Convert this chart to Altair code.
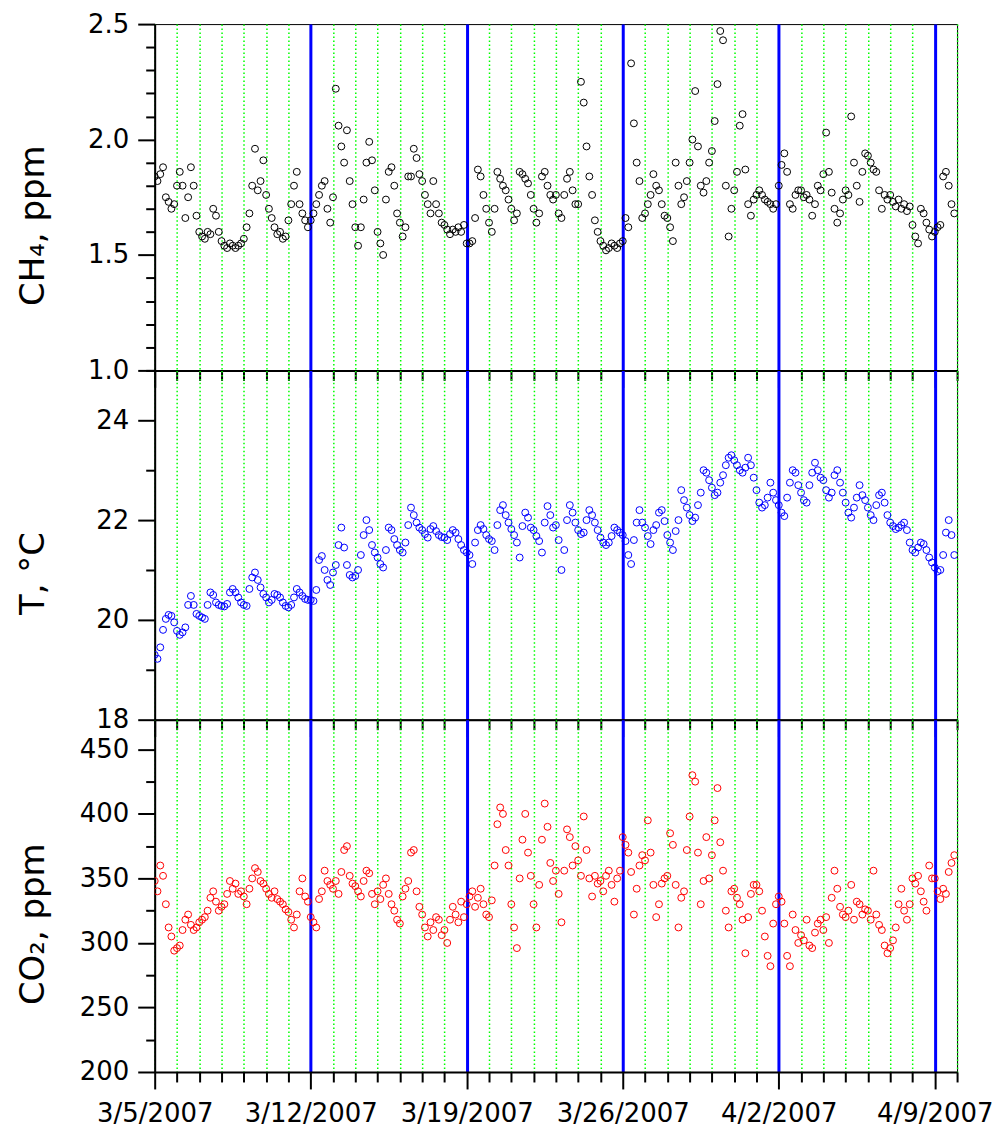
import altair as alt
import pandas as pd

# CH4 (ppm), 8 readings per day (every 3 h) from 3/5/2007 00:00
ch4 = [
    1.84, 1.82, 1.85, 1.88, 1.75, 1.73, 1.70, 1.72,
    1.80, 1.86, 1.80, 1.66, 1.75, 1.88, 1.80, 1.67,
    1.60, 1.58, 1.57, 1.60, 1.59, 1.70, 1.67, 1.60,
    1.56, 1.54, 1.53, 1.55, 1.54, 1.53, 1.54, 1.55,
    1.57, 1.62, 1.68, 1.80, 1.96, 1.78, 1.82, 1.91,
    1.76, 1.70, 1.66, 1.62, 1.59, 1.60, 1.57, 1.58,
    1.65, 1.72, 1.80, 1.86, 1.72, 1.68, 1.65, 1.62,
    1.65, 1.68, 1.72, 1.76, 1.80, 1.82, 1.70, 1.64,
    1.75, 2.22, 2.06, 1.97, 1.90, 2.04, 1.82, 1.72,
    1.62, 1.54, 1.62, 1.74, 1.90, 1.99, 1.91, 1.78,
    1.60, 1.55, 1.50, 1.74, 1.86, 1.88, 1.80, 1.68,
    1.64, 1.58, 1.62, 1.84, 1.84, 1.96, 1.92, 1.85,
    1.82, 1.76, 1.72, 1.68, 1.82, 1.72, 1.68, 1.64,
    1.63, 1.61, 1.59, 1.61, 1.60, 1.62, 1.60, 1.63,
    1.55, 1.55, 1.56, 1.66, 1.87, 1.84, 1.76, 1.70,
    1.64, 1.60, 1.70, 1.86, 1.83, 1.80, 1.78, 1.74,
    1.70, 1.65, 1.68, 1.86, 1.85, 1.83, 1.81, 1.76,
    1.70, 1.64, 1.68, 1.84, 1.86, 1.80, 1.76, 1.74,
    1.76, 1.68, 1.66, 1.76, 1.83, 1.86, 1.78, 1.72,
    1.72, 2.25, 2.16, 1.97, 1.84, 1.76, 1.65, 1.60,
    1.56, 1.54, 1.52, 1.53, 1.55, 1.54, 1.53, 1.55,
    1.56, 1.66, 1.62, 2.33, 2.07, 1.90, 1.82, 1.66,
    1.68, 1.72, 1.76, 1.85, 1.80, 1.78, 1.72, 1.67,
    1.66, 1.62, 1.56, 1.90, 1.80, 1.72, 1.75, 1.82,
    1.90, 2.00, 2.21, 1.97, 1.80, 1.77, 1.82, 1.90,
    1.95, 2.08, 2.24, 2.47, 2.43, 1.80, 1.58, 1.70,
    1.78, 1.86, 2.06, 2.11, 1.87, 1.72, 1.67, 1.74,
    1.76, 1.78, 1.76, 1.74, 1.73, 1.72, 1.70, 1.72,
    1.80, 1.89, 1.94, 1.86, 1.72, 1.70, 1.76, 1.78,
    1.78, 1.75, 1.76, 1.74, 1.67, 1.72, 1.80, 1.78,
    1.85, 2.03, 1.86, 1.77, 1.70, 1.64, 1.68, 1.74,
    1.78, 1.76, 2.10, 1.90, 1.80, 1.73, 1.86, 1.94,
    1.93, 1.90, 1.87, 1.86, 1.78, 1.70, 1.76, 1.74,
    1.76, 1.73, 1.71, 1.74, 1.70, 1.72, 1.69, 1.71,
    1.63, 1.58, 1.55, 1.70, 1.68, 1.64, 1.61, 1.58,
    1.60, 1.62, 1.63, 1.84, 1.86, 1.80, 1.72, 1.68,
]

# Temperature (deg C)
temp = [
    19.30, 19.22, 19.45, 19.80, 20.02, 20.10, 20.08, 19.95,
    19.78, 19.70, 19.75, 19.85, 20.30, 20.48, 20.30, 20.12,
    20.08, 20.05, 20.02, 20.30, 20.55, 20.50, 20.35, 20.30,
    20.28, 20.27, 20.32, 20.55, 20.62, 20.55, 20.45, 20.35,
    20.30, 20.28, 20.62, 20.85, 20.95, 20.80, 20.65, 20.52,
    20.45, 20.35, 20.40, 20.52, 20.50, 20.45, 20.35, 20.28,
    20.25, 20.30, 20.45, 20.62, 20.55, 20.48, 20.42, 20.40,
    20.40, 20.38, 20.60, 21.20, 21.28, 21.00, 20.80, 20.70,
    20.95, 21.10, 21.50, 21.85, 21.45, 21.10, 20.90, 20.85,
    20.88, 21.00, 21.30, 21.70, 22.00, 21.80, 21.50, 21.35,
    21.25, 21.12, 21.05, 21.40, 21.85, 21.80, 21.62, 21.50,
    21.40, 21.35, 21.55, 21.90, 22.25, 22.10, 21.95, 21.85,
    21.80, 21.72, 21.65, 21.82, 21.88, 21.78, 21.70, 21.66,
    21.65, 21.60, 21.72, 21.80, 21.75, 21.62, 21.50, 21.40,
    21.35, 21.30, 21.12, 21.55, 21.80, 21.90, 21.82, 21.70,
    21.62, 21.58, 21.40, 21.90, 22.20, 22.30, 22.10, 21.95,
    21.82, 21.70, 21.55, 21.25, 21.88, 22.15, 22.05, 21.85,
    21.80, 21.68, 21.58, 21.35, 21.95, 22.28, 22.10, 21.85,
    21.90, 21.60, 21.00, 21.40, 22.00, 22.30, 22.15, 21.95,
    21.80, 21.72, 21.75, 22.00, 22.20, 22.10, 21.95, 21.80,
    21.65, 21.55, 21.50, 21.55, 21.68, 21.85, 21.80, 21.75,
    21.70, 21.58, 21.30, 21.12, 21.60, 21.95, 22.20, 21.95,
    21.85, 21.68, 21.52, 21.80, 21.90, 22.15, 22.20, 21.98,
    21.70, 21.55, 21.40, 21.78, 22.00, 22.60, 22.40, 22.25,
    22.10, 21.98, 22.05, 22.30, 22.55, 23.00, 22.95, 22.80,
    22.65, 22.50, 22.55, 22.75, 22.90, 23.10, 23.25, 23.30,
    23.20, 23.10, 23.00, 22.95, 23.05, 23.25, 23.10, 22.85,
    22.60, 22.35, 22.25, 22.30, 22.45, 22.75, 22.55, 22.40,
    22.30, 22.15, 22.08, 22.45, 22.75, 23.00, 22.95, 22.70,
    22.55, 22.40, 22.35, 22.70, 22.95, 23.15, 23.00, 22.85,
    22.80, 22.60, 22.45, 22.55, 22.90, 23.00, 22.75, 22.55,
    22.35, 22.15, 22.05, 22.25, 22.45, 22.70, 22.50, 22.40,
    22.25, 22.10, 22.00, 22.30, 22.50, 22.55, 22.35, 22.10,
    21.95, 21.88, 21.82, 21.85, 21.90, 21.95, 21.80, 21.55,
    21.40, 21.35, 21.45, 21.55, 21.52, 21.40, 21.25, 21.15,
    21.05, 20.97, 21.00, 21.30, 21.75, 22.00, 21.70, 21.30,
]

# CO2 (ppm)
co2 = [
    348, 340, 360, 352, 330, 312, 305, 294,
    296, 298, 310, 318, 322, 314, 310, 312,
    316, 318, 320, 325, 335, 340, 332, 325,
    328, 330, 338, 348, 342, 346, 338, 340,
    336, 330, 342, 350, 358, 355, 348, 346,
    342, 338, 335, 340, 334, 332, 330, 326,
    324, 318, 312, 322, 340, 350, 336, 332,
    320, 316, 312, 334, 340, 356, 348, 345,
    342, 348, 338, 355, 372, 375, 352, 346,
    344, 340, 336, 348, 356, 354, 338, 330,
    340, 334, 345, 350, 338, 330, 325, 318,
    315, 336, 342, 348, 370, 372, 340, 328,
    322, 312, 305, 316, 310, 320, 318, 306,
    310, 300, 318, 328, 322, 316, 332, 320,
    330, 336, 340, 328, 335, 342, 330, 322,
    320, 333, 360, 392, 405, 400, 372, 360,
    330, 312, 296, 350, 380, 400, 370, 352,
    330, 312, 345, 380, 408, 390, 362, 348,
    356, 338, 316, 356, 388, 382, 360, 375,
    364, 352, 398, 372, 350, 336, 352, 346,
    348, 340, 352, 356, 345, 332, 350, 356,
    382, 376, 370, 355, 322, 342, 360, 368,
    364, 395, 370, 345, 320, 330, 346, 350,
    352, 385, 376, 345, 312, 335, 340, 372,
    398, 430, 425, 370, 330, 348, 382, 350,
    368, 395, 420, 378, 356, 325, 312, 340,
    342, 335, 330, 318, 292, 320, 338, 345,
    345, 340, 325, 305, 290, 282, 315, 330,
    336, 332, 315, 290, 282, 322, 310, 300,
    306, 302, 318, 298, 296, 308, 315, 318,
    310, 320, 300, 335, 356, 342, 328, 322,
    320, 325, 345, 318, 332, 330, 322, 326,
    325, 318, 356, 322, 314, 310, 298, 292,
    296, 302, 312, 330, 342, 325, 318, 330,
    350, 346, 352, 340, 332, 325, 360, 350,
    350, 340, 334, 342, 338, 355, 362, 368,
]

times = pd.date_range("2007-03-05 00:00", periods=len(ch4), freq="3h")
df = pd.DataFrame({
    "time": times.strftime("%Y-%m-%dT%H:%M:%S"),
    "ch4": ch4, "temp": temp, "co2": co2,
})

day_values = [alt.DateTime(year=d.year, month=d.month, date=d.day)
              for d in pd.date_range("2007-03-05", "2007-04-10", freq="D")]
x_scale = alt.Scale(domain=[alt.DateTime(year=2007, month=3, date=5),
                            alt.DateTime(year=2007, month=4, date=10)])

FONT = "DejaVu Sans"
W = 804
MAJOR_X = "day(datum.value) == 1"
WEEK_LINE = "day(datum.value) == 1 && date(datum.value) != 5"


def x_axis(labels):
    kw = dict(
        values=day_values, title=None,
        grid=True,
        gridColor={"condition": {"test": WEEK_LINE, "value": "#0000ff"}, "value": "#00ff00"},
        gridWidth={"condition": {"test": WEEK_LINE, "value": 3}, "value": 1.5},
        gridDash={"condition": {"test": WEEK_LINE, "value": []}, "value": [1.5, 2.5]},
        domainColor="black", domainWidth=2,
        tickColor="black", tickWidth=2,
        tickSize={"condition": {"test": MAJOR_X, "value": 17}, "value": 10},
        labelOverlap=False, labelFlush=False, labelBound=False,
    )
    if labels:
        kw.update(labels=True, labelExpr=f"{MAJOR_X} ? timeFormat(datum.value, '%-m/%-d/%Y') : ''",
                  labelFont=FONT, labelFontSize=26, labelColor="black", labelPadding=12)
    else:
        kw.update(labels=False)
    return alt.Axis(**kw)


def y_axis(title, values, major_test, fmt, h):
    return alt.Axis(
        title=title, values=values,
        titleFont=FONT, titleFontSize=34, titleFontWeight="normal", titleColor="black",
        titleX=-121, titleY=h / 2 + 28, titleAngle=270, titleAlign="center", titleBaseline="middle",
        grid=False, domainColor="black", domainWidth=2,
        tickColor="black", tickWidth=2,
        tickSize={"condition": {"test": major_test, "value": 17}, "value": 9},
        labelExpr=f"{major_test} ? format(datum.value, '{fmt}') : ''",
        labelFont=FONT, labelFontSize=26, labelColor="black", labelPadding=9,
        labelOverlap=False, labelFlush=False, labelBound=False,
    )


def panel(field, color, domain, yaxis, h, labels):
    return alt.Chart(df).mark_point(shape="circle", filled=False, size=48, strokeWidth=1,
                                    color=color, opacity=1, clip=True).encode(
        x=alt.X("time:T", scale=x_scale, axis=x_axis(labels)),
        y=alt.Y(f"{field}:Q", scale=alt.Scale(domain=domain, nice=False, zero=False), axis=yaxis),
    ).properties(width=W, height=h)


h1, h2, h3 = 347, 350, 353
ch4_vals = [round(1.0 + 0.1 * i, 1) for i in range(16)]
t_vals = list(range(18, 26))
co2_vals = list(range(200, 451, 25))

p1 = panel("ch4", "black", [1.0, 2.5],
           y_axis("CH₄, ppm", ch4_vals, "abs(datum.value*2 - round(datum.value*2)) < 0.001", ".1f", h1), h1, False)
p2 = panel("temp", "#0000ff", [18, 25],
           y_axis("T, °C", t_vals, "datum.value % 2 == 0", "d", h2), h2, False)
p3 = panel("co2", "#ff0000", [200, 473],
           y_axis("CO₂, ppm", co2_vals, "datum.value % 50 == 0", "d", h3), h3, True)

chart = alt.vconcat(p1, p2, p3, spacing=0, bounds="flush").properties(
    padding={"left": 16, "top": 9, "right": 0, "bottom": 5}
).configure(background="white").configure_view(stroke="black", strokeWidth=1)

chart.save("out.html", embed_options={"renderer": "svg", "actions": False})
